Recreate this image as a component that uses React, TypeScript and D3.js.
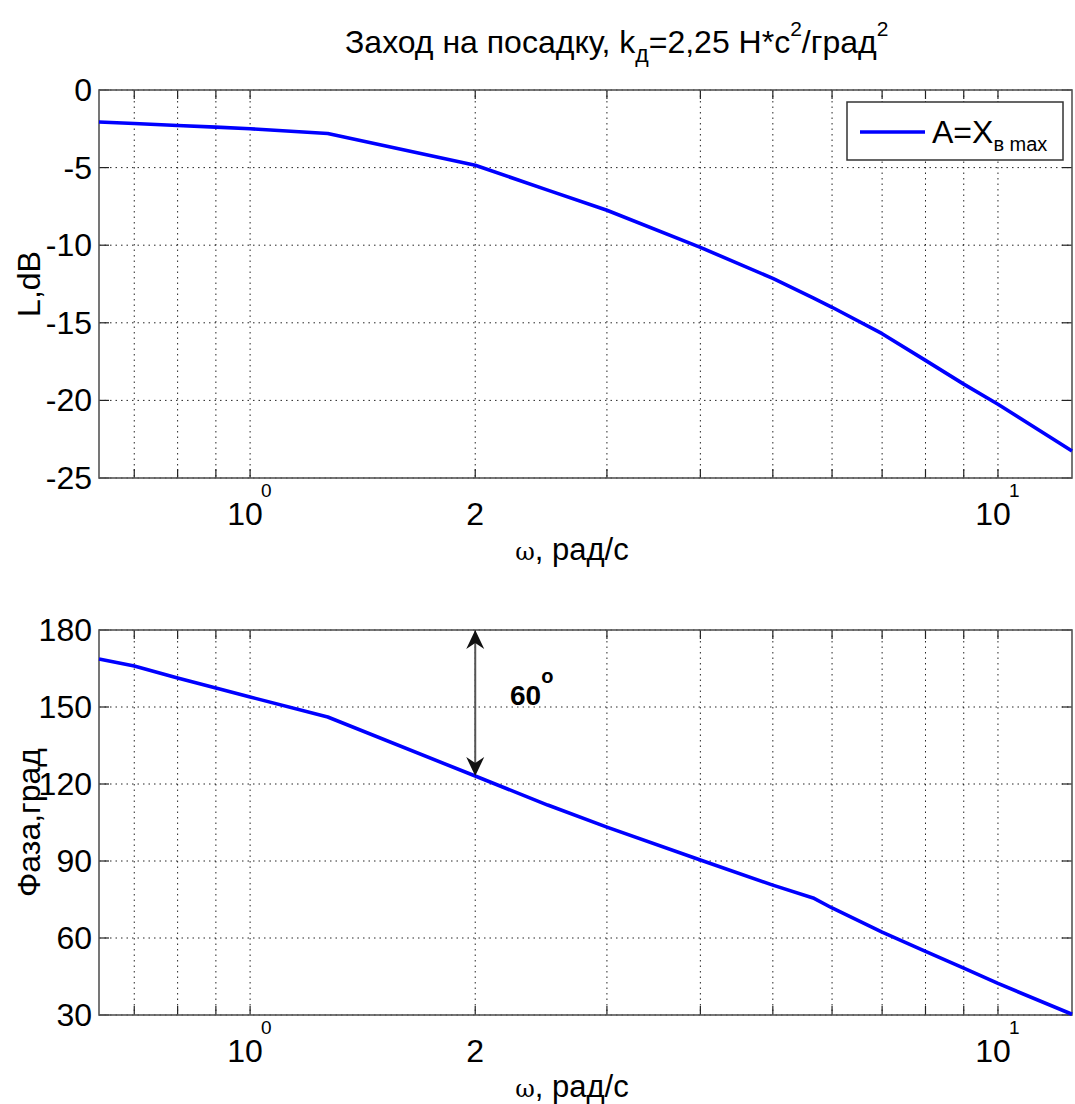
import React from 'react';
import * as d3 from 'd3';

const W = 1075;
const H = 1104;
const blue = '#0000FF';
const font = 'Liberation Sans, Arial, sans-serif';

// frequency, rad/s
const omega = [0.628, 0.7, 0.8, 0.9, 1, 1.27, 2, 2.5, 3, 4, 5, 5.66, 6, 7, 8, 9, 10, 12.56];
// magnitude, dB
const magDb = [-2.06, -2.16, -2.29, -2.39, -2.5, -2.8, -4.85, -6.45, -7.75, -10.14, -12.14, -13.4,
  -14.0, -15.7, -17.42, -18.95, -20.25, -23.26];
// phase, deg
const phaseDeg = [168.7, 166.0, 161.3, 157.4, 153.9, 146.1, 123.1, 111.8, 103.2, 90.4, 80.6, 75.6,
  71.7, 62.3, 54.8, 48.3, 42.3, 30.3];

const magTicks = [0, -5, -10, -15, -20, -25];
const phaseTicks = [180, 150, 120, 90, 60, 30];
const gridX = [0.7, 0.8, 0.9, 1, 2, 3, 4, 5, 6, 7, 8, 9, 10];

const left = 99;
const right = 1072;

const x = d3.scaleLog().domain([0.628, 12.56]).range([left, right]);

type PanelProps = {
  top: number;
  bottom: number;
  domain: [number, number];
  ticks: number[];
  values: number[];
  yLabel: string;
  children?: React.ReactNode;
};

function Panel({ top, bottom, domain, ticks, values, yLabel, children }: PanelProps) {
  const y = d3.scaleLinear().domain(domain).range([bottom, top]);
  const line = d3
    .line<number>()
    .x((_, i) => x(omega[i]))
    .y((d) => y(d));
  const midY = (top + bottom) / 2;
  return (
    <g>
      {/* grid */}
      {gridX.map((g) => (
        <line key={'gx' + g} x1={x(g)} x2={x(g)} y1={top} y2={bottom}
          stroke="#000" strokeWidth={1} strokeDasharray="1.5 4" opacity={0.85} />
      ))}
      {ticks.map((t) => (
        <line key={'gy' + t} x1={left} x2={right} y1={y(t)} y2={y(t)}
          stroke="#000" strokeWidth={1} strokeDasharray="1.5 4" opacity={0.85} />
      ))}
      {/* ticks */}
      {gridX.map((g) => (
        <g key={'tx' + g}>
          <line x1={x(g)} x2={x(g)} y1={bottom} y2={bottom - 9} stroke="#222" strokeWidth={1.2} />
          <line x1={x(g)} x2={x(g)} y1={top} y2={top + 9} stroke="#222" strokeWidth={1.2} />
        </g>
      ))}
      {ticks.map((t) => (
        <g key={'ty' + t}>
          <line x1={left} x2={left + 10} y1={y(t)} y2={y(t)} stroke="#222" strokeWidth={1.2} />
          <line x1={right} x2={right - 10} y1={y(t)} y2={y(t)} stroke="#222" strokeWidth={1.2} />
          <text x={left - 7} y={y(t) + 11} textAnchor="end" fontSize={32} fontFamily={font}>
            {t}
          </text>
        </g>
      ))}
      <rect x={left} y={top} width={right - left} height={bottom - top}
        fill="none" stroke="#555" strokeWidth={1.6} />
      {/* x tick labels */}
      <text x={x(1) - 5} y={bottom + 47} textAnchor="middle" fontSize={32} fontFamily={font}>10</text>
      <text x={x(1) + 11} y={bottom + 19} fontSize={19} fontFamily={font}>0</text>
      <text x={x(2)} y={bottom + 47} textAnchor="middle" fontSize={32} fontFamily={font}>2</text>
      <text x={x(10) - 5} y={bottom + 47} textAnchor="middle" fontSize={32} fontFamily={font}>10</text>
      <text x={x(10) + 11} y={bottom + 19} fontSize={19} fontFamily={font}>1</text>
      <text x={572} y={bottom + 82} textAnchor="middle" fontSize={31} fontFamily={font}>
        <tspan fontFamily="DejaVu Serif, serif" fontSize={24}>ω</tspan>, рад/с
      </text>
      <text transform={`translate(40,${midY}) rotate(-90)`} textAnchor="middle"
        fontSize={32} fontFamily={font}>
        {yLabel}
      </text>
      <path d={line(values) ?? ''} fill="none" stroke={blue} strokeWidth={3.6} strokeLinejoin="round" />
      {children}
    </g>
  );
}

export default function App() {
  const top2 = 630;
  const bottom2 = 1015;
  const yP = d3.scaleLinear().domain([30, 180]).range([bottom2, top2]);
  const ax = x(2);
  const a1 = yP(180);
  const a2 = yP(123.1);
  return (
    <svg width={W} height={H} style={{ position: 'absolute', left: 0, top: 0, background: '#fff' }}>
      <rect width={W} height={H} fill="#fff" />
      <text x={345} y={53} fontSize={32} fontFamily={font}>
        Заход на посадку, k
        <tspan fontSize={23} dy={9}>д</tspan>
        <tspan dy={-9}>=2,25 Н*с</tspan>
        <tspan fontSize={21} dy={-17}>2</tspan>
        <tspan dy={17}>/град</tspan>
        <tspan fontSize={21} dy={-17}>2</tspan>
      </text>
      <Panel top={90} bottom={478} domain={[-25, 0]} ticks={magTicks} values={magDb} yLabel="L,dB">
        <rect x={847} y={102} width={216} height={58} fill="#fff" stroke="#333" strokeWidth={1.5} />
        <line x1={860} x2={925} y1={132} y2={132} stroke={blue} strokeWidth={3.6} />
        <text x={932} y={143} fontSize={32} fontFamily={font}>
          A=X<tspan fontSize={20} dy={8}>в max</tspan>
        </text>
      </Panel>
      <Panel top={top2} bottom={bottom2} domain={[30, 180]} ticks={phaseTicks} values={phaseDeg} yLabel="Фаза,град">
        <line x1={ax} x2={ax} y1={a1 + 4} y2={a2 - 4} stroke="#555" strokeWidth={2} />
        <path d={`M${ax},${a1} l-9,19 l9,-6 l9,6 z`} fill="#111" />
        <path d={`M${ax},${a2} l-9,-19 l9,6 l9,-6 z`} fill="#111" />
        <text x={510} y={705} fontSize={28} fontWeight="bold" fontFamily={font}>
          60<tspan fontSize={20} dy={-22}>o</tspan>
        </text>
      </Panel>
    </svg>
  );
}
